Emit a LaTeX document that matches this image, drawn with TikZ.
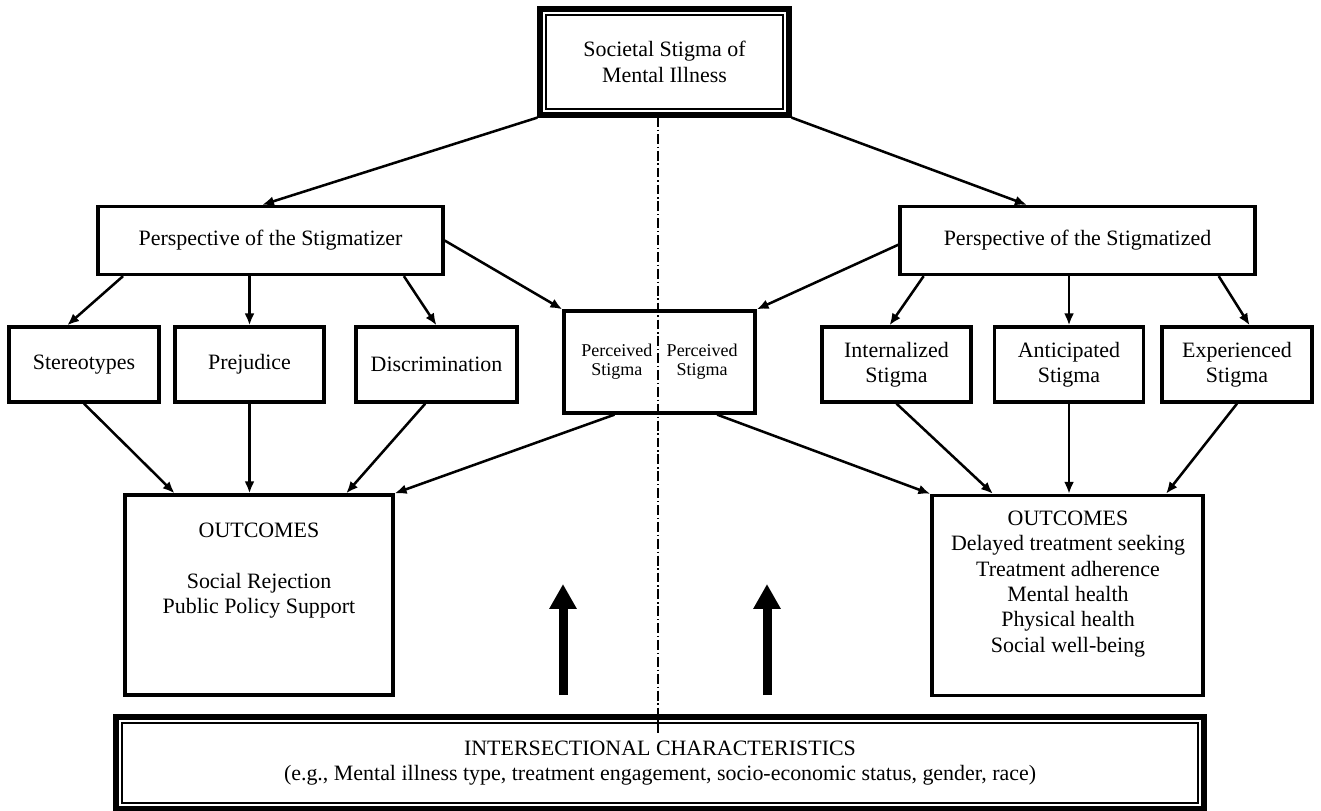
\documentclass[tikz,border=0pt]{standalone}
\usepackage{fontspec}
\setmainfont{Liberation Serif}
\usetikzlibrary{arrows.meta,fit}

\begin{document}
\begin{tikzpicture}[x=0.025cm,y=-0.025cm,
 box/.style={draw,line width=2.3pt,align=center,inner sep=0pt,font=\fontsize{15.6}{18}\selectfont},
 thinbox/.style={box,line width=1.1pt},
 small/.style={box,minimum height=1.875cm},
 dblframe/.style={draw,line width=4.3pt,inner sep=0.12cm},
 txt/.style={align=center,inner sep=0pt,font=\fontsize{15.6}{18}\selectfont},
 ar/.style={-{Latex[length=8.5pt,width=7pt]},line width=1.8pt},
 lift/.style={-{Triangle[length=17.7pt,width=18.4pt]},line width=6.4pt},
 midline/.style={line width=1.1pt,dash pattern=on 7pt off 2pt on 1pt off 2pt}]
\useasboundingbox (0,0) rectangle (1321,810);
\node[thinbox,minimum width=5.925cm,minimum height=2.35cm] (soc) at (664.5,62) {Societal Stigma of\\Mental Illness};
\node[dblframe,fit=(soc)] (socf) {};
\node[box,minimum width=8.625cm,minimum height=1.7cm] (stz) at (270.5,240.5) {Perspective of the Stigmatizer};
\node[box,minimum width=8.875cm,minimum height=1.7cm] (stzd) at (1077.5,240.5) {Perspective of the Stigmatized};
\node[small,minimum width=3.75cm] (ster) at (84,364.5) {Stereotypes};
\node[small,minimum width=3.725cm] (prej) at (249.5,364.5) {Prejudice};
\node[small,minimum width=4.025cm] (disc) at (436.5,364.5) {Discrimination};
\node[box,minimum width=4.775cm,minimum height=2.55cm,font=\fontsize{12.8}{14.2}\selectfont] (perc) at (659.5,362)
 {\begin{tabular}{@{}c@{\hspace{10.3pt}}c@{}}Perceived&Perceived\\Stigma&Stigma\end{tabular}};
\node[small,minimum width=3.725cm] (intl) at (896.5,364.5) {Internalized\\Stigma};
\node[small,minimum width=3.725cm] (antc) at (1069,364.5) {Anticipated\\Stigma};
\node[small,minimum width=3.75cm] (expr) at (1237,364.5) {Experienced\\Stigma};
\node[box,minimum width=6.7cm,minimum height=5cm] (outL) at (259,595) {};
\node[txt] (outLtext) at (259,571) {OUTCOMES\\[18pt]Social Rejection\\Public Policy Support};
\node[box,minimum width=6.775cm,minimum height=5cm] (outR) at (1067.5,595.5) {};
\node[txt] (outRtext) at (1068,584) {OUTCOMES\\Delayed treatment seeking\\Treatment adherence\\Mental health\\Physical health\\Social well-being};
\node[thinbox,minimum width=26.9cm,minimum height=2cm] (inter) at (660,763)
 {INTERSECTIONAL CHARACTERISTICS\\(e.g., Mental illness type, treatment engagement, socio-economic status, gender, race)};
\node[dblframe,fit=(inter),inner sep=0.13cm] (interf) {};
% top level
\draw[ar] (socf.south west) -- ([xshift=-6pt]stz.north);
\draw[ar] (socf.south east) -- ([xshift=-36pt]stzd.north);
% stigmatizer side
\draw[ar] ([xshift=19pt]stz.south west) -- ([xshift=-12pt]ster.north);
\draw[ar] (prej.north |- stz.south) -- (prej.north);
\draw[ar] ([xshift=-29pt]stz.south east) -- (disc.north);
\draw[ar] (stz.east) -- (perc.north west);
% stigmatized side
\draw[ar] ([yshift=-3pt]stzd.west) -- (perc.north east);
\draw[ar] ([xshift=18pt]stzd.south west) -- ([xshift=-5pt]intl.north);
\draw[ar] (antc.north |- stzd.south) -- (antc.north);
\draw[ar] ([xshift=-27pt]stzd.south east) -- ([xshift=9pt]expr.north);
% outcomes
\draw[ar] (ster.south) -- ([xshift=-60pt]outL.north);
\draw[ar] (prej.south) -- (prej.south |- outL.north);
\draw[ar] ([xshift=-8pt]disc.south) -- ([xshift=62pt]outL.north);
\draw[ar] ([xshift=-32pt]perc.south) -- (outL.north east);
\draw[ar] ([xshift=41pt]perc.south) -- (outR.north west);
\draw[ar] (intl.south) -- ([xshift=-53pt]outR.north);
\draw[ar] (antc.south) -- (antc.south |- outR.north);
\draw[ar] (expr.south) -- ([xshift=70pt]outR.north);
% divider and lift arrows
\draw[midline] (658,117) -- (658,733);
\coordinate (liftLa) at (563,695); \coordinate (liftLb) at (563,584);
\coordinate (liftRa) at (767,695); \coordinate (liftRb) at (767,584);
\draw[lift] (liftLa) -- (liftLb);
\draw[lift] (liftRa) -- (liftRb);
\end{tikzpicture}
\end{document}
